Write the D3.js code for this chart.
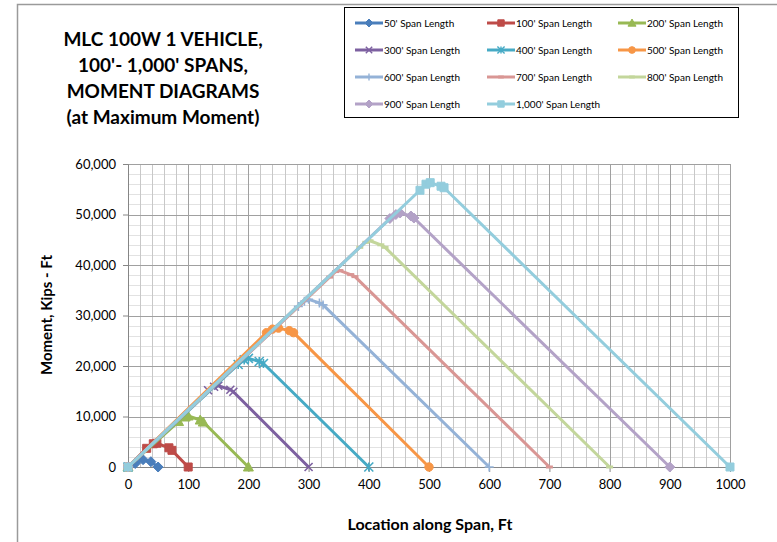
<!DOCTYPE html>
<html><head><meta charset="utf-8">
<script src="https://cdn.jsdelivr.net/npm/d3@7"></script>
<style>body{margin:0;background:#fff}svg{display:block}text{font-family:Lato,"Open Sans",sans-serif;fill:#000}</style>
</head><body><div id="chart"></div>
<script>
const titleLines = ["MLC 100W 1 VEHICLE,", "100'- 1,000' SPANS,", "MOMENT DIAGRAMS", "(at Maximum Moment)"];
const xTicks = [0, 100, 200, 300, 400, 500, 600, 700, 800, 900, 1000];
const yTicks = [0, 10000, 20000, 30000, 40000, 50000, 60000];
const xAxisTitle = "Location along Span, Ft";
const yAxisTitle = "Moment, Kips - Ft";
const seriesNames = ["50' Span Length", "100' Span Length", "200' Span Length", "300' Span Length",
  "400' Span Length", "500' Span Length", "600' Span Length", "700' Span Length",
  "800' Span Length", "900' Span Length", "1,000' Span Length"];
const seriesColors = ["#4A7EBB", "#BE4B48", "#98B954", "#7D60A0", "#46AAC5", "#F79646",
  "#94B2D7", "#D99694", "#C3D69B", "#B3A2C7", "#93CDDD"];
const seriesMarkers = ["diamond", "square", "triangle", "x", "star", "circle", "plus", "dash", "dash", "diamond", "square"];

// [location ft, moment kip-ft]
const span50 = [[0, 0], [12, 700], [25, 1450], [38, 1050], [50, 0]];
const span100 = [[0, 0], [31, 3700], [42, 4600], [48, 4700], [68, 3800], [73, 3300], [100, 0]];
const span200 = [[0, 0], [84, 9000], [95, 9900], [100, 10100], [120, 9300], [125, 8900], [200, 0]];
const span300 = [[0, 0], [133, 15200], [143, 15900], [150, 16100], [170, 15300], [175, 14900], [300, 0]];
const span400 = [[0, 0], [183, 20300], [193, 21200], [200, 21500], [218, 20900], [225, 20500], [400, 0]];
const span500 = [[0, 0], [230, 26600], [240, 27300], [250, 27500], [268, 27000], [275, 26600], [500, 0]];
const span600 = [[0, 0], [283, 31800], [293, 32800], [300, 33200], [318, 32500], [324, 32100], [600, 0]];
const span700 = [[0, 0], [335, 37600], [345, 38700], [352, 38900], [370, 38100], [377, 37700], [700, 0]];
const span800 = [[0, 0], [385, 43500], [395, 44500], [402, 44800], [420, 44000], [427, 43500], [800, 0]];
const span900 = [[0, 0], [435, 49200], [445, 50000], [452, 50300], [470, 49700], [475, 49300], [900, 0]];
const span1000 = [[0, 0], [485, 54800], [495, 56000], [502, 56300], [520, 55600], [525, 55300], [1000, 0]];
const seriesPoints = [span50, span100, span200, span300, span400, span500, span600, span700, span800, span900, span1000];

const W = 777, H = 542;
const svg = d3.select("#chart").append("svg").attr("width", W).attr("height", H);

// outer chart border (left/top visible)
svg.append("rect").attr("x", 17.5).attr("y", 4.5).attr("width", 800).attr("height", 600)
  .attr("fill", "none").attr("stroke", "#9a9a9a").attr("stroke-width", 1.5);

const x = d3.scaleLinear().domain([0, 1000]).range([128, 730]);
const y = d3.scaleLinear().domain([0, 60000]).range([467, 164]);

const grid = svg.append("g");
// minor grid
grid.selectAll(".hm").data(d3.range(0, 60001, 2000)).join("line")
  .attr("x1", x(0)).attr("x2", x(1000)).attr("y1", d => Math.round(y(d)) + 0.5).attr("y2", d => Math.round(y(d)) + 0.5)
  .attr("stroke", "#e2e2e2").attr("stroke-width", 1);
grid.selectAll(".vm").data(d3.range(0, 1001, 20)).join("line")
  .attr("y1", y(0)).attr("y2", y(60000)).attr("x1", d => Math.round(x(d)) + 0.5).attr("x2", d => Math.round(x(d)) + 0.5)
  .attr("stroke", "#c8c8c8").attr("stroke-width", 1);
// major grid
grid.selectAll(".hM").data(yTicks).join("line")
  .attr("x1", x(0)).attr("x2", x(1000)).attr("y1", d => Math.round(y(d)) + 0.5).attr("y2", d => Math.round(y(d)) + 0.5)
  .attr("stroke", "#a0a0a0").attr("stroke-width", 1);
grid.selectAll(".vM").data(xTicks).join("line")
  .attr("y1", y(0)).attr("y2", y(60000)).attr("x1", d => Math.round(x(d)) + 0.5).attr("x2", d => Math.round(x(d)) + 0.5)
  .attr("stroke", "#a0a0a0").attr("stroke-width", 1);

// axes
const fmt = d3.format(",");
const yAxis = svg.append("g").attr("transform", `translate(${x(0)},0)`)
  .call(d3.axisLeft(y).tickValues(yTicks).tickFormat(fmt).tickSize(5).tickPadding(7));
const xAxis = svg.append("g").attr("transform", `translate(0,${y(0)})`)
  .call(d3.axisBottom(x).tickValues(xTicks).tickFormat(d => String(d)).tickSize(5).tickPadding(8));
[yAxis, xAxis].forEach(a => {
  a.select(".domain").attr("stroke", "#868686");
  a.selectAll(".tick line").attr("stroke", "#868686");
  a.selectAll("text").style("font-family", "Lato, sans-serif").style("font-size", "13px").attr("fill", "#000");
});

// marker shapes
function markerPath(type, r) {
  switch (type) {
    case "diamond": return `M0,${-r}L${r},0L0,${r}L${-r},0Z`;
    case "square": return `M${-r},${-r}H${r}V${r}H${-r}Z`;
    case "triangle": return `M0,${-r}L${r},${r * 0.8}L${-r},${r * 0.8}Z`;
    case "x": return `M${-r},${-r}L${r},${r}M${r},${-r}L${-r},${r}`;
    case "star": return `M${-r},${-r}L${r},${r}M${r},${-r}L${-r},${r}M0,${-r}V${r}`;
    case "circle": return `M${r},0A${r},${r},0,1,1,${-r},0A${r},${r},0,1,1,${r},0Z`;
    case "plus": return `M${-r},0H${r}M0,${-r}V${r}`;
    case "dash": return `M${-r},0H${r}`;
  }
}
const filled = t => ["diamond", "square", "triangle", "circle"].includes(t);
const markerSize = { diamond: 5, square: 4, triangle: 5, x: 4, star: 4.5, circle: 4.2, plus: 4.5, dash: 3.5 };

const line = d3.line().x(d => x(d[0])).y(d => y(d[1]));
const plot = svg.append("g");
seriesPoints.forEach((pts, i) => {
  const c = seriesColors[i], m = seriesMarkers[i];
  const g = plot.append("g");
  g.append("path").datum(pts).attr("d", line).attr("fill", "none").attr("stroke", c)
    .attr("stroke-width", 3).attr("stroke-linejoin", "round");
  g.selectAll("path.mk").data(pts).join("path").attr("class", "mk")
    .attr("transform", d => `translate(${x(d[0])},${y(d[1])})`)
    .attr("d", markerPath(m, markerSize[m]))
    .attr("fill", filled(m) ? c : "none").attr("stroke", c)
    .attr("stroke-width", filled(m) ? 1 : (m === "dash" ? 3 : 1.6));
});

// title
svg.append("g").selectAll("text").data(titleLines).join("text")
  .attr("x", 163).attr("y", (d, i) => 46 + i * 26).attr("text-anchor", "middle")
  .style("font-size", "19px").style("font-weight", "bold").text(d => d);

// axis titles
svg.append("text").attr("x", 430).attr("y", 530).attr("text-anchor", "middle")
  .style("font-size", "16px").style("font-weight", "bold").text(xAxisTitle);
svg.append("text").attr("transform", "translate(52,315) rotate(-90)").attr("text-anchor", "middle")
  .style("font-size", "15px").style("font-weight", "bold").text(yAxisTitle);

// legend
const legend = svg.append("g");
legend.append("rect").attr("x", 344.5).attr("y", 7.5).attr("width", 394).attr("height", 110)
  .attr("fill", "#fff").attr("stroke", "#000").attr("stroke-width", 1);
const colX = [355, 487, 618];
const rowY = [23, 50, 77, 104];
seriesNames.forEach((name, i) => {
  const cx = colX[i % 3], cy = rowY[Math.floor(i / 3)];
  const c = seriesColors[i], m = seriesMarkers[i];
  const g = legend.append("g").attr("transform", `translate(${cx},${cy})`);
  g.append("line").attr("x1", 0).attr("x2", 28).attr("y1", 0).attr("y2", 0).attr("stroke", c).attr("stroke-width", 3);
  g.append("path").attr("transform", "translate(14,0)").attr("d", markerPath(m, markerSize[m] * 0.8))
    .attr("fill", filled(m) ? c : "none").attr("stroke", c)
    .attr("stroke-width", filled(m) ? 1 : (m === "dash" ? 3 : 1.4));
  g.append("text").attr("x", 29).attr("y", 3.5).style("font-size", "10px").text(name);
});
</script></body></html>
